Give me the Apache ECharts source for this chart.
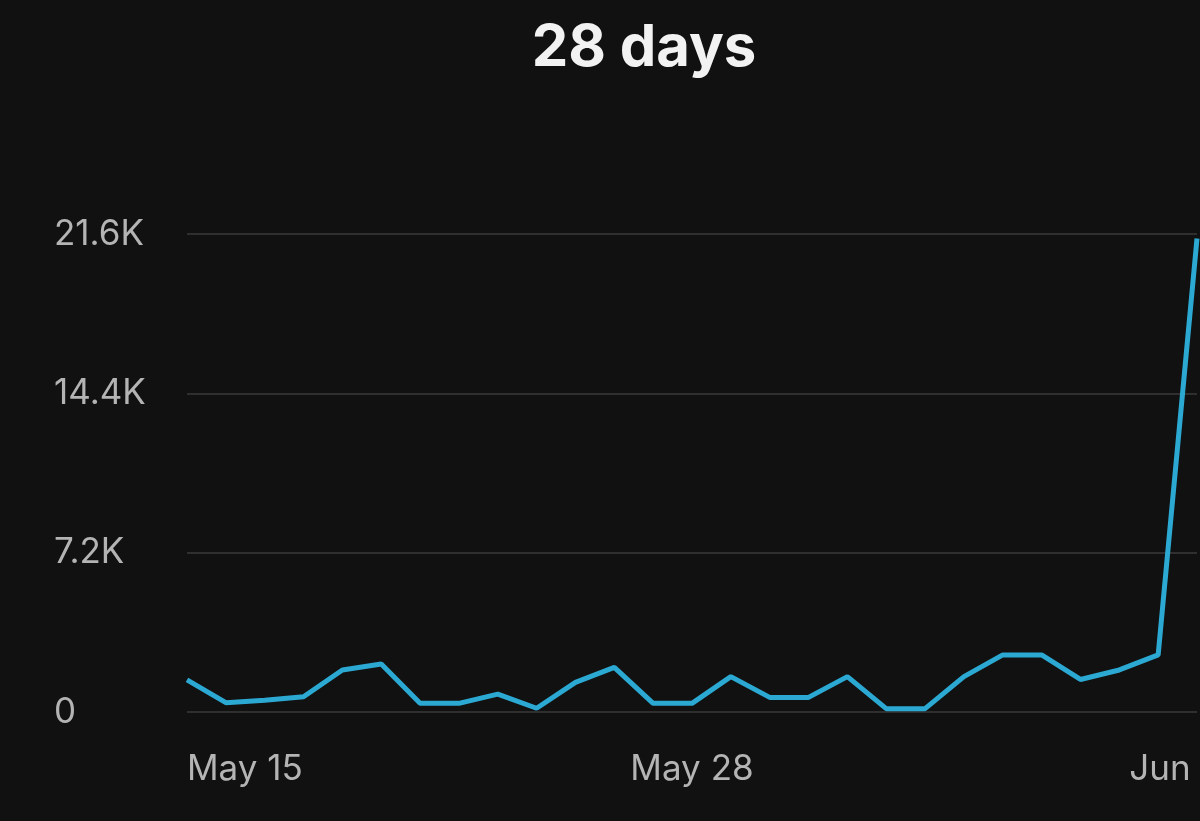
<!DOCTYPE html>
<html>
<head>
<meta charset="utf-8">
<script src="https://cdn.jsdelivr.net/npm/echarts@6/dist/echarts.min.js"></script>
<style>
  html, body { margin: 0; padding: 0; background: #111111; }
  #chart { width: 1200px; height: 821px; }
</style>
</head>
<body>
<div id="chart"></div>
<script>
// May 15 .. Jun 10, one point per day
var days = ['May 15', 'May 16', 'May 17', 'May 18', 'May 19', 'May 20', 'May 21',
  'May 22', 'May 23', 'May 24', 'May 25', 'May 26', 'May 27', 'May 28',
  'May 29', 'May 30', 'May 31', 'Jun 1', 'Jun 2', 'Jun 3', 'Jun 4',
  'Jun 5', 'Jun 6', 'Jun 7', 'Jun 8', 'Jun 9', 'Jun 10'];
var values = [1450, 420, 530, 690, 1900, 2170, 390, 390, 810, 170, 1340, 2020, 390, 390,
  1600, 660, 660, 1600, 150, 150, 1600, 2580, 2580, 1470, 1900, 2580, 21400];
var yTicks = [0, 7200, 14400, 21600];

var font = 'Inter, "Noto Sans", sans-serif';
var labelColor = '#b4b4b4';

option = {
    backgroundColor: '#111111',
    animation: false,
    title: {
        text: '28 days',
        left: 639,
        textAlign: 'center',
        top: 15,
        textStyle: {
            color: '#f2f2f2',
            fontSize: 58,
            fontWeight: 'bold',
            fontFamily: font
        }
    },
    grid: {
        left: 187,
        right: 3,
        top: 234,
        bottom: 109,
        outerBoundsMode: 'none',
        containLabel: false
    },
    xAxis: {
        type: 'category',
        data: days,
        boundaryGap: false,
        axisLine: { show: false },
        axisTick: { show: false },
        axisLabel: {
            interval: 12,
            showMaxLabel: true,
            alignMinLabel: 'left',
            margin: 40,
            color: labelColor,
            fontSize: 35,
            fontFamily: font,
            formatter: function (v, i) {
                return i === days.length - 1 ? '{last|' + v + '}' : v;
            },
            rich: {
                last: { padding: [0, 28, 0, 0], color: labelColor, fontSize: 35, fontFamily: font }
            }
        }
    },
    yAxis: {
        type: 'value',
        min: yTicks[0],
        max: yTicks[yTicks.length - 1],
        interval: 7200,
        axisLine: { show: false },
        axisTick: { show: false },
        splitLine: {
            lineStyle: { color: '#2f2f2f', width: 2 }
        },
        axisLabel: {
            align: 'left',
            margin: 133,
            color: labelColor,
            fontSize: 35,
            fontFamily: font,
            formatter: function (v) {
                return v === 0 ? '0' : (v / 1000).toFixed(1) + 'K';
            }
        }
    },
    series: [{
        type: 'line',
        data: values,
        symbol: 'none',
        lineStyle: { color: '#2ba9d3', width: 5 },
        itemStyle: { color: '#2ba9d3' }
    }]
};
var myecharts = echarts.init(document.getElementById('chart'));
myecharts.setOption(option);
</script>
</body>
</html>
